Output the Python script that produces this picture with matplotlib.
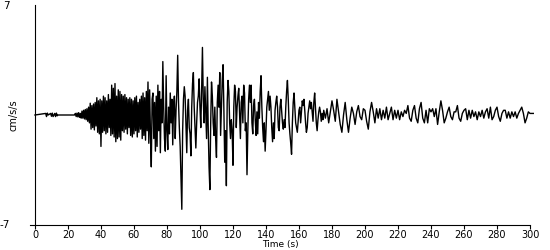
import matplotlib
matplotlib.use('Agg')
import matplotlib.pyplot as plt

# Time (s) and acceleration (cm/s/s)
time_s = [
    0, 6.5, 7, 7.5, 8, 9.5, 10, 10.5, 11, 12, 12.5, 13, 13.5, 14, 24, 24.5, 25, 25.5, 26, 26.5, 27, 27.5, 28,
    28.5, 29, 29.5, 30, 30.5, 31, 31.5, 32, 32.5, 33, 33.5, 34, 34.5, 35, 35.5, 36, 36.5, 37, 37.5, 38, 38.5, 39, 39.5,
    40, 40.5, 41, 41.5, 42, 42.5, 43, 43.5, 44, 44.5, 45, 45.5, 46, 46.5, 47, 47.5, 48, 48.5, 49, 49.5,
    50, 50.5, 51, 51.5, 52, 52.5, 53, 53.5, 54, 54.5, 55, 55.5, 56, 56.5, 57, 57.5, 58, 58.5, 59, 59.5,
    60, 60.5, 61, 61.5, 62, 62.5, 63, 63.5, 64, 64.5, 65, 65.5, 66, 66.5, 67, 67.5, 68, 68.5, 69, 69.5,
    70, 70.5, 71, 71.5, 72, 72.5, 73, 73.5, 74, 74.5, 75, 75.5, 76, 76.5, 77, 77.5, 78, 78.5, 79, 79.5,
    80, 80.5, 81, 81.5, 82, 82.5, 83, 83.5, 84, 84.5, 85, 85.5, 86, 86.5, 87, 87.5, 88, 89, 89.5,
    90, 90.5, 91, 91.5, 92, 92.5, 93, 93.5, 94, 94.5, 95, 95.5, 96, 96.5, 97, 97.5, 98, 98.5, 99, 99.5,
    100, 100.5, 101, 101.5, 102, 102.5, 103, 103.5, 104, 104.5, 105, 105.5, 106, 106.5, 107, 107.5, 108, 108.5, 109, 109.5,
    110, 110.5, 111, 111.5, 112, 112.5, 113, 113.5, 114, 114.5, 115, 115.5, 116, 116.5, 117, 117.5, 118, 118.5, 119, 119.5,
    120, 120.5, 121, 121.5, 122, 122.5, 123, 123.5, 124, 124.5, 125, 125.5, 126, 126.5, 127, 127.5, 128, 128.5, 129, 129.5,
    130, 130.5, 131, 131.5, 132, 132.5, 133, 133.5, 134, 134.5, 135, 135.5, 136, 136.5, 137, 137.5, 138, 138.5, 139, 139.5,
    140, 140.5, 141, 141.5, 142, 142.5, 143, 143.5, 144, 144.5, 145, 145.5, 146, 146.5, 147, 147.5, 148, 148.5, 149, 149.5,
    150, 150.5, 151, 151.5, 152, 152.5, 153, 153.5, 154, 154.5, 155, 155.5, 156, 156.5, 157, 157.5, 158, 158.5, 159, 159.5,
    160, 160.5, 161, 161.5, 162, 162.5, 163, 163.5, 164, 164.5, 165, 165.5, 166, 166.5, 167, 167.5, 168, 168.5, 169, 169.5,
    170, 170.5, 171, 171.5, 172, 172.5, 173, 173.5, 174, 174.5,
    175, 176, 177, 178, 179, 180, 181, 182, 183, 184, 185, 186, 187, 188, 189, 190, 191, 192, 193, 194,
    195, 196, 197, 198, 199, 200, 201, 202, 203, 204, 205, 206, 207, 208, 209, 210, 211, 212, 213, 214,
    215, 216, 217, 218, 219, 220, 221, 222, 223, 224, 225, 226, 227, 228, 229, 230, 231, 232, 233, 234,
    235, 236, 237, 238, 239, 240, 241, 242, 243, 244, 245, 246, 247, 248, 249, 250, 251, 252, 253, 254,
    255, 256, 257, 258, 259, 260, 261, 262, 263, 264, 265, 266, 267, 268, 269, 270, 271, 272, 273, 274,
    275, 276, 277, 278, 279, 280, 281, 282, 283, 284, 285, 286, 287, 288, 289, 290, 291, 292, 293, 294,
    295, 296, 297, 298, 299, 300, 301, 302,
]
accel = [
    0, 0.1, -0.1, 0.12, 0, 0.1, -0.08, 0.12, -0.1, 0.1, -0.1, 0.12, -0.05, 0, 0, 0.1, -0.1, 0.12, -0.12, 0.15, -0.15, 0.1, -0.2,
    0.25, -0.2, 0.3, -0.25, 0.35, -0.3, 0.4, -0.4, 0.5, -0.5, 0.75, -0.9, 0.6, -0.8, 0.7, -0.95, 0.8, -0.7, 1.1, -1.1, 0.9, -1.2, 1.0,
    -2.0, 0.9, -1.1, 1.2, -1.0, 1.1, -1.2, 0.9, -1.1, 1.3, -0.8, 1.0, -1.3, 1.9, -1.2, 1.7, -1.4, 2.0, -1.7, 1.2,
    -1.5, 1.6, -1.4, 1.5, -1.6, 1.3, -1.0, 1.2, -1.1, 1.3, -0.9, 1.1, -1.2, 1.0, -0.8, 1.1, -1.3, 1.0, -1.4, 0.9,
    -1.2, 1.1, -1.0, 1.2, -1.4, 0.8, -1.1, 1.0, -0.9, 1.2, -1.5, 1.4, -1.3, 1.1, -1.6, 1.5, -1.0, 2.1, -1.8, 1.6,
    -1.2, -3.3, 1.0, 1.4, -1.5, 0.8, -2.3, 1.2, -2.0, 1.9, -1.0, 1.5, -2.4, 1.0, -0.5, 3.4, 0.5, -1.5, -2.3, 2.5,
    -1.0, -2.2, 0.5, -1.2, 1.4, -0.5, 1.0, -1.9, 0.6, 1.2, -1.5, 0.3, 1.5, 3.8, 0.8, -0.8, -2.0, -6.0, -1.0,
    1.0, 1.8, 1.2, -0.5, -2.4, 0.3, 1.0, -0.8, -1.2, -2.6, 0.5, 2.0, 2.7, 0.5, -0.8, -2.1, -0.5, 0.8, 1.2, 2.3,
    0.5, -0.8, 1.5, 4.3, 1.0, -0.5, 1.8, 0.2, -1.5, 2.4, -0.8, -3.3, -4.75, -0.5, 2.1, 1.2, -0.5, -1.3, 0.5, -1.5,
    -2.7, 0.8, 1.9, 0.5, 2.7, -1.3, 0.5, 2.2, 3.2, 0.3, -3.0, -1.0, -4.5, 0.8, 2.2, 1.5, -0.5, -1.5, -0.3, -1.0,
    -3.2, 0.5, 1.9, 1.5, -0.8, 0.5, 1.2, 1.7, 0.2, -1.5, 0.8, 1.2, -0.5, 1.9, 1.4, -1.0, -0.5, -3.8, -1.0, 1.0,
    1.9, 0.8, 1.9, -0.5, -1.2, 0.6, 1.0, -0.3, -1.3, 0.2, -1.2, 0.8, -0.2, 1.5, 2.5, 0.5, -0.8, -1.7, -0.5, -2.3,
    -1.0, 0.5, 1.0, 1.5, 0.3, 1.2, 0.5, -0.8, -1.7, -0.5, -1.5, 0.3, 0.8, 1.2, 0.5, -0.8, -1.0, 0.5, 1.0, 0.2,
    -0.5, -0.9, -0.3, -0.8, 0.5, 1.5, 2.2, 1.0, -0.5, -1.2, -1.8, -2.5, -0.5, 0.8, 1.4, 0.5, -0.5, -0.8, -1.1, -0.4,
    0.3, 0.5, -0.5, 0.2, 0.9, 0.6, 1.0, 0.3, -0.5, -1.1, -0.8, 0.1, 0.5, 0.9, 0.4, 0.8, 0.2, -0.4, 0.8, 1.4,
    0.5, -0.5, -1.0, -0.3, 0.2, 0.5, 0.2, -0.4, 0.1, -0.3,
    0.3, -0.2, 0.4, -0.5, 0.2, 0.9, 0.3, -0.4, 1.0, 0.2, -0.6, -1.1, 0.0, 0.8, -0.3, -1.1, -0.2, 0.5, 0.1, -0.6,
    0.2, 0.6, -0.1, -0.3, 0.4, 0.3, -0.4, -0.9, 0.2, 0.8, 0.2, -0.5, 0.4, -0.2, 0.4, -0.3, 0.3, -0.2, 0.5, -0.3,
    0.1, 0.5, -0.3, 0.3, -0.2, 0.3, -0.3, 0.2, -0.1, 0.3, 0.1, 0.6, -0.2, -0.4, 0.3, 0.6, -0.2, -0.5, 0.4, 0.8,
    -0.2, -0.5, 0.3, -0.5, 0.4, 0.2, 0.4, -0.1, 0.4, -0.6, 0.2, 0.9, 0.3, -0.5, -0.2, 0.2, 0.5, -0.1, -0.3, 0.2,
    0.2, 0.6, -0.2, -0.4, 0.1, 0.3, 0.4, -0.3, 0.3, -0.2, 0.3, -0.1, 0.2, -0.3, 0.2, -0.1, 0.3, -0.2, 0.2, 0.4,
    -0.2, 0.5, -0.3, -0.1, 0.3, 0.5, -0.1, -0.4, 0.1, 0.3, 0.3, -0.2, 0.2, -0.2, 0.2, -0.1, 0.2, -0.2, 0.1, 0.3,
    0.5, 0.1, -0.5, -0.2, 0.2, 0.1, 0.1, 0.1,
]
x_ticks = list(range(0, 301, 20))
y_limit = 7

fig = plt.figure(figsize=(5.5, 2.5), dpi=100)
ax = fig.add_axes([30 / 550, 25 / 250, 500 / 550, 220 / 250])

ax.plot(time_s, accel, color='black', lw=1.0, clip_on=False)

ax.set_xlim(-3, 300)
ax.set_ylim(-y_limit, y_limit)
ax.spines['right'].set_visible(False)
ax.spines['top'].set_visible(False)
ax.spines['left'].set_position(('data', 0))
ax.spines['left'].set_linewidth(0.8)
ax.spines['bottom'].set_linewidth(0.8)

ax.set_xticks(x_ticks)
ax.tick_params(axis='x', direction='out', length=3, width=0.8, labelsize=7, pad=0.5)
ax.set_yticks([])

# y-axis end labels sit well to the left of the spine
fig.text(10 / 550, 1 - 6 / 250, str(y_limit), ha='right', va='center', fontsize=7.5)
fig.text(10 / 550, 1 - 225 / 250, str(-y_limit), ha='right', va='center', fontsize=7.5)
fig.text(13 / 550, 1 - 115 / 250, 'cm/s/s', rotation=90, ha='center', va='center', fontsize=7)
ax.set_xlabel('Time (s)', fontsize=6.5, labelpad=0)

fig.savefig('out.png', dpi=100)
